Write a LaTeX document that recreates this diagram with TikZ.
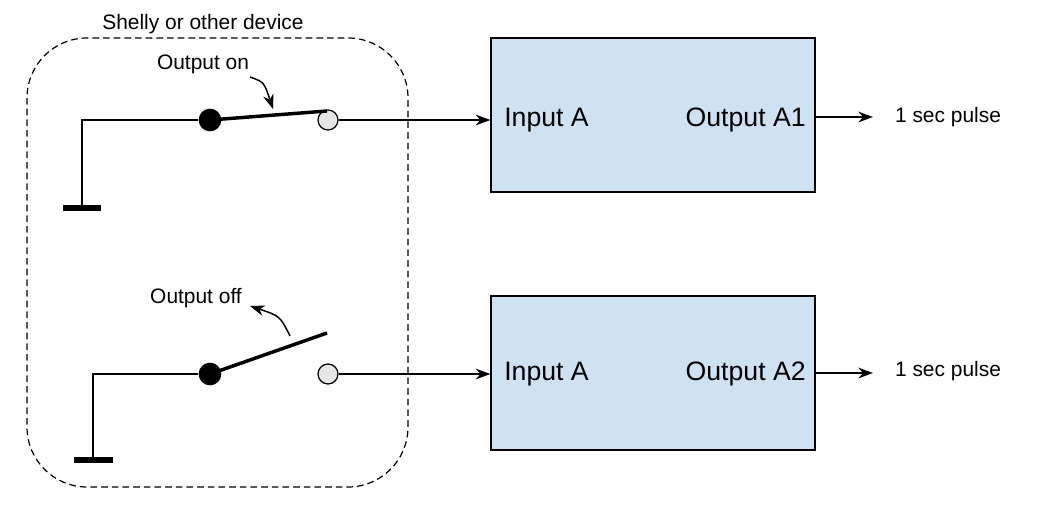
\documentclass[tikz,border=0pt]{standalone}
\usepackage{fontspec}
\setmainfont{Liberation Sans}
\usetikzlibrary{arrows.meta}
\begin{document}
\begin{tikzpicture}[x=0.75pt,y=-0.75pt,
  wire/.style={line width=1.1pt},
  sm/.style={font=\fontsize{15.7}{18}\selectfont, inner sep=0pt},
  big/.style={font=\fontsize{20}{23}\selectfont, inner sep=0pt},
  box/.style={draw, line width=0.9pt, fill={rgb,255:red,207;green,226;blue,243}},
  arr/.style={wire,-{Stealth[length=11pt,width=8pt]}},
  dot/.style={circle, fill=black, minimum size=17pt, inner sep=0pt},
  odot/.style={circle, draw, line width=0.9pt, fill={rgb,255:red,230;green,230;blue,230}, minimum size=15pt, inner sep=0pt},
  gnd/.style={line width=4.5pt}]
\useasboundingbox[fill=white] (0,0) rectangle (1053,514);
\draw[dash pattern=on 5pt off 3pt, line width=0.9pt, rounded corners=45pt] (27,38) rectangle (408,487);
\node[sm] (lab) at (203,24) {Shelly or other device};
% top switch
\coordinate (g1) at (82,120);
\coordinate (g1b) at (82,207);
\coordinate (bar1l) at (63,208); \coordinate (bar1r) at (101,208);
\node[dot] (d1) at (210,120) {};
\node[odot] (o1) at (328,120) {};
\coordinate (b1) at (327,111);
\draw[wire] (g1b) -- (g1) -- (d1);
\draw[gnd] (bar1l) -- (bar1r);
\draw[line width=2.6pt] (d1.center) -- (b1);
\node[box, minimum width=324pt*0.75, minimum height=154pt*0.75] (box1) at (653,115) {};
\node[big, anchor=west] (in1) at (504,120) {Input A};
\node[big, anchor=east] (out1) at (806,120) {Output A1};
\draw[arr] (o1) -- (box1.west |- o1);
\node[sm] (p1) at (948,117) {1 sec pulse};
\coordinate (e1) at (873,117);
\draw[arr] (box1.east |- e1) -- (e1);
\node[sm] (on) at (203,64) {Output on};
\coordinate (on1) at (250,77); \coordinate (on2) at (273,109);
\draw[wire, -{Stealth[length=11pt,width=8pt]}] (on1) .. controls (264,82) .. (on2);
% bottom switch
\coordinate (g2) at (93,374);
\coordinate (g2b) at (93,459);
\coordinate (bar2l) at (74,460); \coordinate (bar2r) at (113,460);
\node[dot] (d2) at (210,374) {};
\node[odot] (o2) at (328,374) {};
\coordinate (b2) at (327,333);
\draw[wire] (g2b) -- (g2) -- (d2);
\draw[gnd] (bar2l) -- (bar2r);
\draw[line width=2.6pt] (d2.center) -- (b2);
\node[box, minimum width=324pt*0.75, minimum height=154pt*0.75] (box2) at (653,373) {};
\node[big, anchor=west] (in2) at (504,374) {Input A};
\node[big, anchor=east] (out2) at (806,374) {Output A2};
\draw[arr] (o2) -- (box2.west |- o2);
\node[sm] (p2) at (948,371) {1 sec pulse};
\coordinate (e2) at (873,373);
\draw[arr] (box2.east |- e2) -- (e2);
\node[sm] (off) at (196,298) {Output off};
\coordinate (of1) at (290,336); \coordinate (of2) at (250,306);
\draw[wire, -{Stealth[length=11pt,width=8pt]}] (of1) .. controls (280,316) .. (of2);
\end{tikzpicture}
\end{document}
